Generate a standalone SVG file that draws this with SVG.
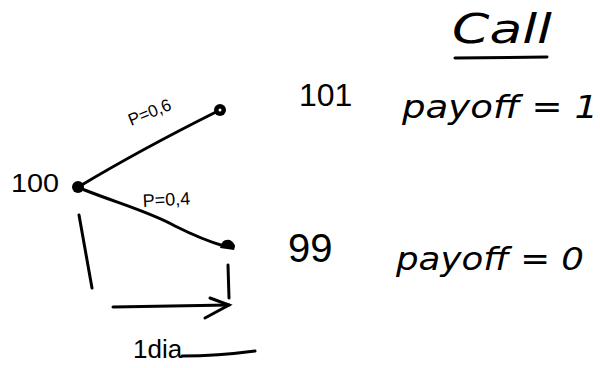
<svg xmlns="http://www.w3.org/2000/svg" width="600" height="368" viewBox="0 0 600 368">
<style>
.t{font-family:"Liberation Sans",Arial,sans-serif;fill:#000}
.h{font-family:"DejaVu Sans","Liberation Sans",sans-serif;font-style:italic;fill:#000}
.ln{stroke:#000;stroke-width:3;fill:none;stroke-linecap:round}
.dot{fill:#000}
</style>
<rect width="600" height="368" fill="#fff"/>
<g id="connectors">
<path class="ln" d="M80 186 C120 162 180 130 216 112"/>
<path class="ln" d="M82 189 C120 204 150 212 175 226 C195 236 210 242 224 246"/>
<path class="ln" d="M79 215 L92 288"/>
<path class="ln" d="M228 265 L229 298"/>
<path class="ln" d="M113 307 L229 305"/>
<path class="ln" d="M210 298 L229 305 L205 318"/>
</g>
<g id="n100">
<circle class="dot" cx="78" cy="187" r="6"/>
<text class="t" x="11" y="192" font-size="26" textLength="48" lengthAdjust="spacingAndGlyphs">100</text>
</g>
<g id="n101">
<circle class="dot" cx="220" cy="110" r="6"/>
<circle cx="220" cy="110" r="1.5" fill="#fff"/>
<text class="t" x="299" y="106" font-size="32">101</text>
<text class="h" x="402" y="118" font-size="32" textLength="196" lengthAdjust="spacingAndGlyphs">payoff = 1</text>
</g>
<g id="n99">
<path class="dot" d="M220 248 Q222 238 230 240 Q237 244 234 250 Z"/>
<text class="t" x="288" y="262" font-size="40">99</text>
<text class="h" x="396" y="270" font-size="32" textLength="188" lengthAdjust="spacingAndGlyphs">payoff = 0</text>
</g>
<g id="labels">
<text class="t" font-size="17" transform="translate(131,126) rotate(-22)">P=0,6</text>
<text class="t" font-size="18" transform="translate(143,207) rotate(-3)">P=0,4</text>
<text class="h" x="452" y="43" font-size="40" textLength="100" lengthAdjust="spacingAndGlyphs">Call</text>
<path class="ln" d="M455 58 L547 57"/>
<text class="t" x="133" y="358" font-size="26">1dia</text>
<path class="ln" d="M182 356 C210 356 240 353 255 351"/>
</g>
</svg>
